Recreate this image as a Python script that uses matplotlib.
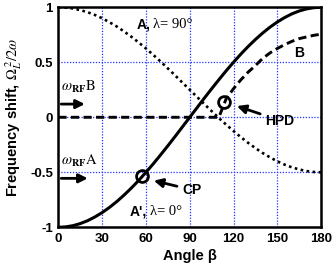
import matplotlib
matplotlib.use("Agg")
import matplotlib.pyplot as plt
import numpy as np

plt.rcParams['font.family'] = ['Liberation Sans', 'DejaVu Sans']
plt.rcParams['mathtext.fontset'] = 'stix'

# angle beta in degrees, 5 degree steps
beta = list(range(0, 181, 5))

# A', lambda = 0 (solid)
shift_a0 = [-1.0, -0.996, -0.985, -0.966, -0.94, -0.906, -0.866, -0.819, -0.766,
            -0.707, -0.643, -0.574, -0.5, -0.423, -0.342, -0.259, -0.174, -0.087,
            0.0, 0.087, 0.174, 0.259, 0.342, 0.423, 0.5, 0.574, 0.643, 0.707,
            0.766, 0.819, 0.866, 0.906, 0.94, 0.966, 0.985, 0.996, 1.0]

# A, lambda = 90 (dotted)
shift_a90 = [1.0, 0.997, 0.989, 0.974, 0.955, 0.93, 0.9, 0.864, 0.825, 0.78,
             0.732, 0.68, 0.625, 0.567, 0.507, 0.444, 0.38, 0.315, 0.25, 0.185,
             0.12, 0.056, -0.007, -0.067, -0.125, -0.18, -0.232, -0.28, -0.325,
             -0.364, -0.4, -0.43, -0.455, -0.474, -0.489, -0.497, -0.5]

# B (dashed)
shift_b = [0.0] * 22 + [0.0, 0.17, 0.26, 0.34, 0.41, 0.47, 0.535, 0.585, 0.625,
                        0.66, 0.69, 0.715, 0.73, 0.745, 0.755]

xticks = [0, 30, 60, 90, 120, 150, 180]
yticks = [-1, -0.5, 0, 0.5, 1]
ytick_labels = ['-1', '-0.5', '0', '0.5', '1']

cp_point = (57.5, -0.537)
hpd_point = (113.5, 0.14)

fig = plt.figure(figsize=(3.32, 2.69), dpi=100)
ax = fig.add_axes([0.176, 0.155, 0.791, 0.818])

ax.plot(beta, shift_a0, color='black', lw=2.2, solid_capstyle='butt')
ax.plot(beta, shift_a90, color='black', lw=1.9, linestyle=(0, (1, 1.3)))
ax.plot(beta, shift_b, color='black', lw=2.1, linestyle=(0, (2.8, 1.5)))

ax.plot(*cp_point, 'o', ms=8.5, mfc='none', mec='black', mew=2)
ax.plot(*hpd_point, 'o', ms=8.5, mfc='none', mec='black', mew=2)

ax.set_xlim(0, 180)
ax.set_ylim(-1, 1)
ax.set_xticks(xticks)
ax.set_yticks(yticks)
ax.set_yticklabels(ytick_labels)
ax.tick_params(direction='in', length=0, width=1, labelsize=9.5, pad=4)
for lab in ax.get_xticklabels() + ax.get_yticklabels():
    lab.set_fontweight('bold')
for s in ax.spines.values():
    s.set_linewidth(1.8)
ax.grid(True, color='#2233ff', linestyle=(0, (1, 1.3)), lw=0.9)

ax.set_xlabel('Angle β', fontsize=10.5, fontweight='bold', labelpad=3)
ax.set_ylabel(r'Frequency shift, $\Omega_L^{\ 2}/2\omega$', fontsize=10.5,
              fontweight='bold', labelpad=4)

# curve labels
ax.text(53.5, 0.84, 'A,', fontsize=10, fontweight='bold', va='center')
ax.text(65, 0.84, 'λ= 90°', fontsize=10.5, family='Liberation Serif', va='center')
ax.text(49, -0.86, "A',", fontsize=10, fontweight='bold', va='center')
ax.text(63, -0.86, 'λ= 0°', fontsize=10.5, family='Liberation Serif', va='center')
ax.text(165, 0.58, 'B', fontsize=10, fontweight='bold', va='center', ha='center')

arrow = dict(arrowstyle='-|>', color='black', lw=2, mutation_scale=13)
ax.annotate('HPD', xy=(120.5, 0.11), xytext=(142, -0.03), fontsize=10,
            fontweight='bold', va='center', arrowprops=arrow)
ax.annotate('CP', xy=(63.5, -0.57), xytext=(85, -0.66), fontsize=10,
            fontweight='bold', va='center', arrowprops=arrow)

# RF frequency markers
ax.annotate('', xy=(20, 0.12), xytext=(0, 0.12), arrowprops=arrow,
            annotation_clip=False)
ax.annotate('', xy=(22, -0.555), xytext=(0, -0.555), arrowprops=arrow,
            annotation_clip=False)
ax.text(2, 0.24, r'$\omega_{\mathsf{\mathbf{RF}}}\mathrm{B}$', fontsize=10.5)
ax.text(2, -0.43, r'$\omega_{\mathsf{\mathbf{RF}}}\mathrm{A}$', fontsize=10.5)

fig.savefig('out.png', dpi=100)
